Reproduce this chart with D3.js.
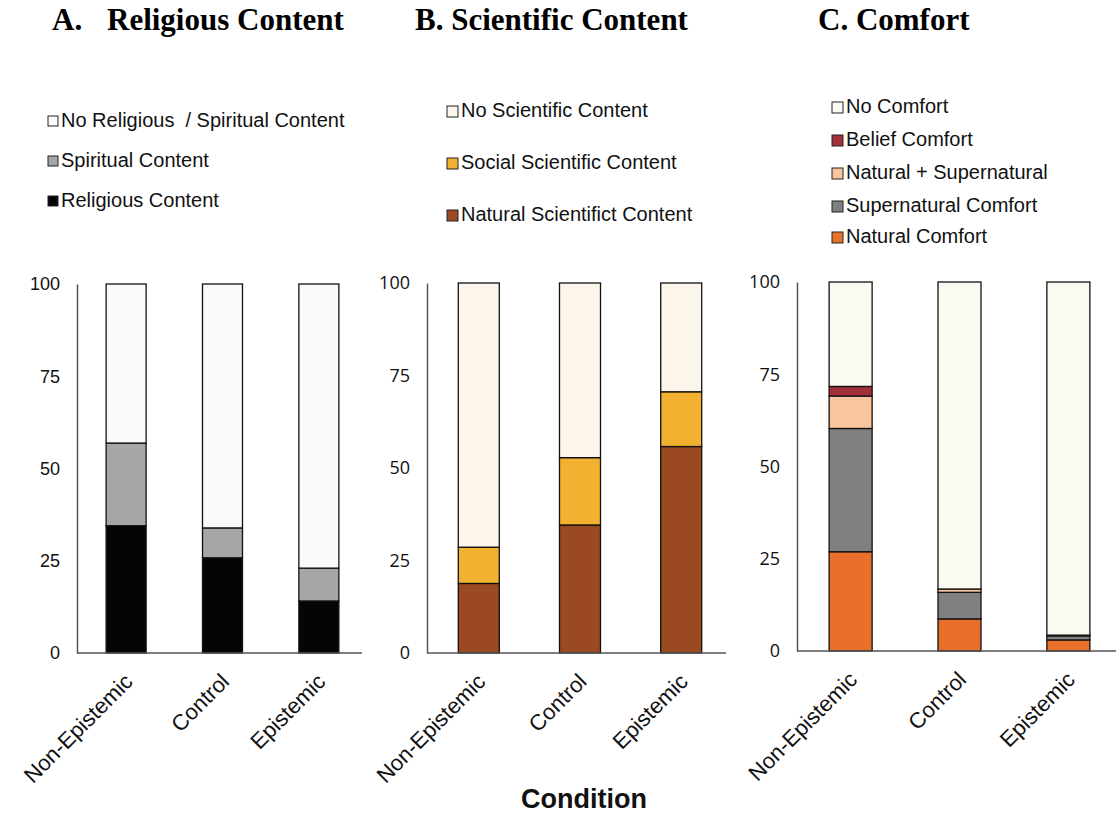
<!DOCTYPE html>
<html>
<head>
<meta charset="utf-8">
<script src="https://cdn.jsdelivr.net/npm/d3@7"></script>
<style>
  body { margin: 0; background: #fff; }
  svg text { white-space: pre; }
</style>
</head>
<body>
<div id="chart"></div>
<script>
// conditions on x axis
var conditions = ["Non-Epistemic", "Control", "Epistemic"];
var yTicks = [0, 25, 50, 75, 100];

// A. Religious content (% of responses)
var religiousKeys = ["Religious Content", "Spiritual Content", "No Religious  / Spiritual Content"];
var religiousContent = [34.5, 25.8, 14.1];
var spiritualContent = [22.4, 8.1, 8.9];
var noReligiousContent = [43.1, 66.1, 77.0];
var religiousColors = ["#050505", "#a6a6a6", "#fafafa"];

// B. Scientific content
var scientificKeys = ["Natural Scientifict Content", "Social Scientific Content", "No Scientific Content"];
var naturalScientific = [18.8, 34.6, 55.8];
var socialScientific = [9.8, 18.2, 14.8];
var noScientific = [71.4, 47.2, 29.4];
var scientificColors = ["#9a4920", "#f3b131", "#fcf5ec"];

// C. Comfort
var comfortKeys = ["Natural Comfort", "Supernatural Comfort", "Natural + Supernatural", "Belief Comfort", "No Comfort"];
var naturalComfort = [26.9, 8.7, 3.0];
var supernaturalComfort = [33.4, 7.2, 1.1];
var naturalSupernatural = [8.8, 0.9, 0.2];
var beliefComfort = [2.6, 0.0, 0.0];
var noComfort = [28.3, 83.2, 95.7];
var comfortColors = ["#e8702b", "#808080", "#f8c59d", "#a0303a", "#fafaf3"];

var width = 1116, height = 816;

var svg = d3.select("#chart").append("svg")
  .attr("width", width)
  .attr("height", height)
  .style("font-family", "'Liberation Sans', Arial, sans-serif");

function buildRows(keys, series) {
  return conditions.map(function(c, i) {
    var row = { condition: c };
    keys.forEach(function(k, j) { row[k] = series[j][i]; });
    return row;
  });
}

var panels = [
  {
    title: "B. Scientific Content", titleX: 415,
    keys: scientificKeys, colors: scientificColors,
    rows: buildRows(scientificKeys, [naturalScientific, socialScientific, noScientific]),
    axisX: 427, range: [434, 726], pad: 0.595, yRange: [653, 283],
    tickFont: "'Open Sans', sans-serif",
    legendX: 447, legendY: [221, 169, 117], sq: 11
  },
  {
    title: "C. Comfort", titleX: 818,
    keys: comfortKeys, colors: comfortColors,
    rows: buildRows(comfortKeys, [naturalComfort, supernaturalComfort, naturalSupernatural, beliefComfort, noComfort]),
    axisX: 797, range: [803, 1116], pad: 0.605, yRange: [651, 282],
    tickFont: "'Open Sans', sans-serif",
    legendX: 832, legendY: [243, 212, 179, 146, 113], sq: 11
  },
  {
    title: "Religious Content", titleX: 107, prefix: "A.",
    keys: religiousKeys, colors: religiousColors,
    rows: buildRows(religiousKeys, [religiousContent, spiritualContent, noReligiousContent]),
    axisX: 77, range: [83, 362], pad: 0.585, yRange: [653, 284],
    tickFont: "'Liberation Sans', Arial, sans-serif",
    legendX: 48, legendY: [207, 167, 127], sq: 10
  }
];

panels.forEach(function(p) {
  var g = svg.append("g");

  var x = d3.scaleBand()
    .domain(conditions)
    .range(p.range)
    .paddingInner(p.pad)
    .paddingOuter(0.24);

  var y = d3.scaleLinear()
    .domain([0, 100])
    .range(p.yRange);

  var stack = d3.stack().keys(p.keys);
  var layers = stack(p.rows);

  // title
  g.append("text")
    .attr("x", p.titleX)
    .attr("y", 30)
    .style("font-family", "'Liberation Serif', 'Times New Roman', serif")
    .style("font-weight", "bold")
    .style("font-size", "31px")
    .text(p.title);
  if (p.prefix) {
    g.append("text")
      .attr("x", 52)
      .attr("y", 30)
      .style("font-family", "'Liberation Serif', 'Times New Roman', serif")
      .style("font-weight", "bold")
      .style("font-size", "31px")
      .text(p.prefix);
  }

  // stacked bars
  layers.forEach(function(layer, li) {
    g.append("g")
      .selectAll("rect")
      .data(layer)
      .join("rect")
      .attr("x", function(d) { return x(d.data.condition); })
      .attr("y", function(d) { return y(d[1]); })
      .attr("width", x.bandwidth())
      .attr("height", function(d) { return y(d[0]) - y(d[1]); })
      .attr("fill", p.colors[li])
      .attr("stroke", "#111")
      .attr("stroke-width", function(d) { return d[1] - d[0] > 0 ? 1.3 : 0; });
  });

  // y axis
  var yAxis = d3.axisLeft(y)
    .tickValues(yTicks)
    .tickSize(0)
    .tickPadding(17);

  var ya = g.append("g")
    .attr("transform", "translate(" + p.axisX + ",0)")
    .call(yAxis);
  ya.select(".domain").attr("stroke", "#555").attr("stroke-width", 1.5);
  ya.selectAll("text")
    .style("font-family", p.tickFont)
    .style("font-size", "18px")
    .attr("fill", "#111");

  // x axis
  var xAxis = d3.axisBottom(x)
    .tickSize(0)
    .tickSizeOuter(0)
    .tickPadding(0);

  var xa = g.append("g")
    .attr("transform", "translate(0," + y(0) + ")")
    .call(xAxis);
  xa.select(".domain")
    .attr("d", "M" + (p.axisX - p.range[0]) + ",0H" + (p.range[1] - p.range[0]))
    .attr("transform", "translate(" + p.range[0] + ",0)")
    .attr("stroke", "#555").attr("stroke-width", 1.5);
  xa.selectAll(".tick text")
    .attr("text-anchor", "end")
    .attr("dy", 0)
    .attr("transform", "translate(8,30) rotate(-45)")
    .style("font-size", "22px")
    .attr("fill", "#111");

  // legend
  var lg = g.append("g");
  p.keys.forEach(function(k, i) {
    var ly = p.legendY[i];
    lg.append("rect")
      .attr("x", p.legendX)
      .attr("y", ly - 11)
      .attr("width", p.sq)
      .attr("height", p.sq)
      .attr("fill", p.colors[i])
      .attr("stroke", "#222")
      .attr("stroke-width", 1);
    lg.append("text")
      .attr("x", p.legendX + p.sq + 3)
      .attr("y", ly)
      .style("font-size", "20px")
      .attr("fill", "#111")
      .text(k);
  });
});

svg.append("text")
  .attr("x", 584)
  .attr("y", 808)
  .attr("text-anchor", "middle")
  .style("font-weight", "bold")
  .style("font-size", "27px")
  .attr("fill", "#111")
  .text("Condition");
</script>
</body>
</html>
